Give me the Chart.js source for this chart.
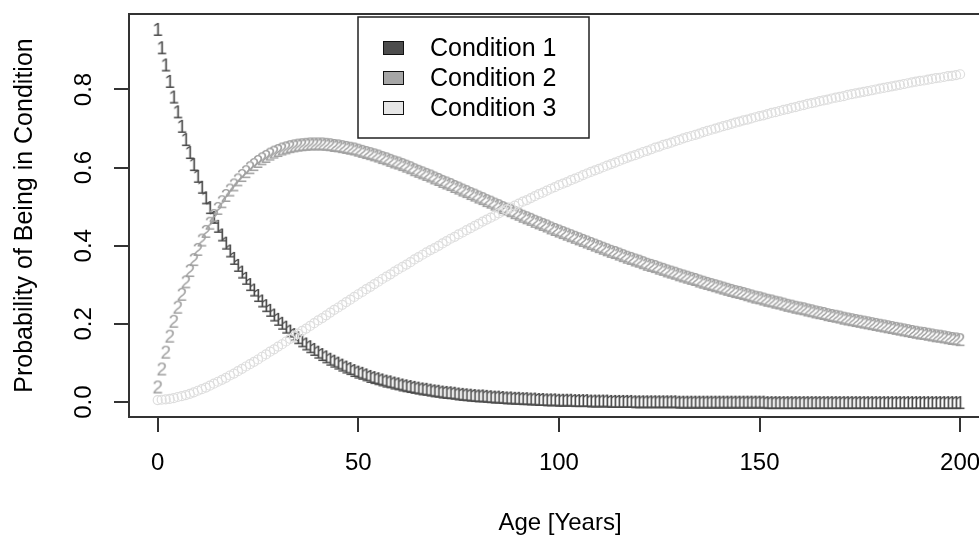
<!DOCTYPE html>
<html>
<head>
<meta charset="utf-8">
<script src="https://cdn.jsdelivr.net/npm/chart.js@4.4.0/dist/chart.umd.min.js"></script>
<style>
  html, body { margin: 0; padding: 0; background: #fff; overflow: hidden; }
  #wrap { width: 1000px; height: 539px; }
</style>
</head>
<body>
<div id="wrap"><canvas id="chart" width="1000" height="539"></canvas></div>
<script>
// age in years (one point per year)
const ages = [
  0, 1, 2, 3, 4, 5, 6, 7, 8, 9, 10, 11, 12, 13, 14, 15, 16, 17, 18, 19,
  20, 21, 22, 23, 24, 25, 26, 27, 28, 29, 30, 31, 32, 33, 34, 35, 36, 37, 38, 39,
  40, 41, 42, 43, 44, 45, 46, 47, 48, 49, 50, 51, 52, 53, 54, 55, 56, 57, 58, 59,
  60, 61, 62, 63, 64, 65, 66, 67, 68, 69, 70, 71, 72, 73, 74, 75, 76, 77, 78, 79,
  80, 81, 82, 83, 84, 85, 86, 87, 88, 89, 90, 91, 92, 93, 94, 95, 96, 97, 98, 99,
  100, 101, 102, 103, 104, 105, 106, 107, 108, 109, 110, 111, 112, 113, 114, 115, 116, 117, 118, 119,
  120, 121, 122, 123, 124, 125, 126, 127, 128, 129, 130, 131, 132, 133, 134, 135, 136, 137, 138, 139,
  140, 141, 142, 143, 144, 145, 146, 147, 148, 149, 150, 151, 152, 153, 154, 155, 156, 157, 158, 159,
  160, 161, 162, 163, 164, 165, 166, 167, 168, 169, 170, 171, 172, 173, 174, 175, 176, 177, 178, 179,
  180, 181, 182, 183, 184, 185, 186, 187, 188, 189, 190, 191, 192, 193, 194, 195, 196, 197, 198, 199,
  200
];

const condition1 = [
  0.955, 0.908, 0.864, 0.822, 0.782, 0.744, 0.707, 0.673, 0.640, 0.609,
  0.579, 0.551, 0.524, 0.499, 0.474, 0.451, 0.429, 0.408, 0.388, 0.369,
  0.351, 0.334, 0.318, 0.302, 0.288, 0.274, 0.260, 0.248, 0.236, 0.224,
  0.213, 0.203, 0.193, 0.183, 0.174, 0.166, 0.158, 0.150, 0.143, 0.136,
  0.129, 0.123, 0.117, 0.111, 0.106, 0.101, 0.096, 0.091, 0.087, 0.082,
  0.078, 0.075, 0.071, 0.067, 0.064, 0.061, 0.058, 0.055, 0.053, 0.050,
  0.048, 0.045, 0.043, 0.041, 0.039, 0.037, 0.035, 0.034, 0.032, 0.030,
  0.029, 0.027, 0.026, 0.025, 0.024, 0.022, 0.021, 0.020, 0.019, 0.018,
  0.017, 0.017, 0.016, 0.015, 0.014, 0.014, 0.013, 0.012, 0.012, 0.011,
  0.011, 0.010, 0.010, 0.009, 0.009, 0.008, 0.008, 0.007, 0.007, 0.007,
  0.006, 0.006, 0.006, 0.006, 0.005, 0.005, 0.005, 0.005, 0.004, 0.004,
  0.004, 0.004, 0.004, 0.003, 0.003, 0.003, 0.003, 0.003, 0.003, 0.002,
  0.002, 0.002, 0.002, 0.002, 0.002, 0.002, 0.002, 0.002, 0.002, 0.002,
  0.001, 0.001, 0.001, 0.001, 0.001, 0.001, 0.001, 0.001, 0.001, 0.001,
  0.001, 0.001, 0.001, 0.001, 0.001, 0.001, 0.001, 0.001, 0.001, 0.001,
  0.001, 0.001, 0, 0, 0, 0, 0, 0, 0, 0,
  0, 0, 0, 0, 0, 0, 0, 0, 0, 0,
  0, 0, 0, 0, 0, 0, 0, 0, 0, 0,
  0, 0, 0, 0, 0, 0, 0, 0, 0, 0,
  0, 0, 0, 0, 0, 0, 0, 0, 0, 0,
  0
];

const condition2 = [
  0.040, 0.086, 0.129, 0.170, 0.208, 0.244, 0.277, 0.309, 0.338, 0.366,
  0.392, 0.416, 0.438, 0.459, 0.479, 0.497, 0.514, 0.530, 0.544, 0.557,
  0.570, 0.581, 0.591, 0.601, 0.609, 0.617, 0.624, 0.630, 0.636, 0.641,
  0.645, 0.649, 0.652, 0.655, 0.657, 0.659, 0.660, 0.661, 0.662, 0.662,
  0.662, 0.662, 0.661, 0.660, 0.658, 0.657, 0.655, 0.653, 0.651, 0.649,
  0.646, 0.643, 0.640, 0.637, 0.634, 0.631, 0.627, 0.624, 0.620, 0.616,
  0.613, 0.609, 0.605, 0.601, 0.596, 0.592, 0.588, 0.584, 0.580, 0.575,
  0.571, 0.566, 0.562, 0.558, 0.553, 0.549, 0.544, 0.540, 0.535, 0.531,
  0.526, 0.522, 0.517, 0.513, 0.508, 0.504, 0.499, 0.495, 0.491, 0.486,
  0.482, 0.477, 0.473, 0.469, 0.464, 0.460, 0.456, 0.452, 0.447, 0.443,
  0.439, 0.435, 0.431, 0.427, 0.423, 0.419, 0.415, 0.411, 0.407, 0.403,
  0.399, 0.395, 0.391, 0.387, 0.384, 0.380, 0.376, 0.372, 0.369, 0.365,
  0.362, 0.358, 0.354, 0.351, 0.348, 0.344, 0.341, 0.337, 0.334, 0.331,
  0.327, 0.324, 0.321, 0.318, 0.315, 0.311, 0.308, 0.305, 0.302, 0.299,
  0.296, 0.293, 0.290, 0.287, 0.284, 0.282, 0.279, 0.276, 0.273, 0.270,
  0.268, 0.265, 0.262, 0.260, 0.257, 0.255, 0.252, 0.249, 0.247, 0.244,
  0.242, 0.240, 0.237, 0.235, 0.232, 0.230, 0.228, 0.225, 0.223, 0.221,
  0.219, 0.216, 0.214, 0.212, 0.210, 0.208, 0.206, 0.204, 0.202, 0.200,
  0.198, 0.196, 0.194, 0.192, 0.190, 0.188, 0.186, 0.184, 0.182, 0.180,
  0.178, 0.177, 0.175, 0.173, 0.171, 0.170, 0.168, 0.166, 0.164, 0.163,
  0.161
];

const condition3 = [
  0.005, 0.006, 0.007, 0.008, 0.010, 0.013, 0.015, 0.018, 0.021, 0.025,
  0.029, 0.033, 0.037, 0.042, 0.047, 0.052, 0.057, 0.062, 0.068, 0.073,
  0.079, 0.085, 0.091, 0.097, 0.103, 0.109, 0.116, 0.122, 0.129, 0.135,
  0.142, 0.148, 0.155, 0.162, 0.168, 0.175, 0.182, 0.188, 0.195, 0.202,
  0.209, 0.215, 0.222, 0.229, 0.236, 0.242, 0.249, 0.256, 0.262, 0.269,
  0.276, 0.282, 0.289, 0.295, 0.302, 0.308, 0.315, 0.321, 0.327, 0.334,
  0.340, 0.346, 0.352, 0.358, 0.365, 0.371, 0.377, 0.383, 0.389, 0.394,
  0.400, 0.406, 0.412, 0.418, 0.423, 0.429, 0.434, 0.440, 0.445, 0.451,
  0.456, 0.462, 0.467, 0.472, 0.477, 0.483, 0.488, 0.493, 0.498, 0.503,
  0.508, 0.513, 0.517, 0.522, 0.527, 0.532, 0.536, 0.541, 0.546, 0.550,
  0.555, 0.559, 0.563, 0.568, 0.572, 0.576, 0.581, 0.585, 0.589, 0.593,
  0.597, 0.601, 0.605, 0.609, 0.613, 0.617, 0.621, 0.625, 0.629, 0.632,
  0.636, 0.640, 0.643, 0.647, 0.651, 0.654, 0.658, 0.661, 0.664, 0.668,
  0.671, 0.675, 0.678, 0.681, 0.684, 0.687, 0.691, 0.694, 0.697, 0.700,
  0.703, 0.706, 0.709, 0.712, 0.715, 0.718, 0.721, 0.723, 0.726, 0.729,
  0.732, 0.734, 0.737, 0.740, 0.742, 0.745, 0.748, 0.750, 0.753, 0.755,
  0.758, 0.760, 0.763, 0.765, 0.767, 0.770, 0.772, 0.774, 0.777, 0.779,
  0.781, 0.783, 0.786, 0.788, 0.790, 0.792, 0.794, 0.796, 0.798, 0.800,
  0.802, 0.804, 0.806, 0.808, 0.810, 0.812, 0.814, 0.816, 0.818, 0.820,
  0.822, 0.823, 0.825, 0.827, 0.829, 0.830, 0.832, 0.834, 0.835, 0.837,
  0.839
];

const seriesNames = ['Condition 1', 'Condition 2', 'Condition 3'];
const xTicks = [0, 50, 100, 150, 200];
const yTicks = [0, 0.2, 0.4, 0.6, 0.8];
const yTickLabels = ['0.0', '0.2', '0.4', '0.6', '0.8'];

const FONT = '"Liberation Sans", Arial, Helvetica, sans-serif';
Chart.defaults.font.family = FONT;
Chart.defaults.color = '#000';

function toPoints(values) {
    return ages.map((a, i) => ({ x: a, y: values[i] }));
}

// R style plotting characters ("1", "2") as small canvases
function glyph(ch, color) {
    const c = document.createElement('canvas');
    c.width = 16;
    c.height = 22;
    const g = c.getContext('2d');
    g.font = '19px ' + FONT;
    g.fillStyle = color;
    g.textAlign = 'center';
    g.textBaseline = 'middle';
    g.fillText(ch, 8, 13);
    return c;
}

const boxPlugin = {
    id: 'box',
    afterDatasetsDraw(chart) {
        const { ctx, chartArea: a } = chart;
        ctx.save();
        ctx.strokeStyle = '#333';
        ctx.lineWidth = 2;
        ctx.strokeRect(a.left, a.top, a.right - a.left, a.bottom - a.top);
        ctx.restore();
    }
};

const legendPlugin = {
    id: 'rLegend',
    afterDraw(chart) {
        const ctx = chart.ctx;
        ctx.save();
        ctx.fillStyle = '#fff';
        ctx.fillRect(358, 17, 231, 121);
        ctx.strokeStyle = '#222';
        ctx.lineWidth = 1.5;
        ctx.strokeRect(358, 17, 231, 121);
        ctx.font = '25px ' + FONT;
        ctx.textBaseline = 'middle';
        chart.data.datasets.forEach((ds, i) => {
            const cy = 48 + i * 30;
            ctx.fillStyle = ds.legendFill;
            ctx.fillRect(383, cy - 7, 21, 14);
            ctx.strokeStyle = '#111';
            ctx.lineWidth = 1;
            ctx.strokeRect(383.5, cy - 6.5, 20, 13);
            ctx.fillStyle = '#000';
            ctx.fillText(ds.label, 430, cy + 1);
        });
        ctx.restore();
    }
};

const ctx = document.getElementById('chart').getContext('2d');
new Chart(ctx, {
    type: 'scatter',
    data: {
        datasets: [
            {
                label: seriesNames[0],
                data: toPoints(condition1),
                pointStyle: glyph('1', '#4a4a4a'),
                legendFill: '#4d4d4d',
                order: 3
            },
            {
                label: seriesNames[1],
                data: toPoints(condition2),
                pointStyle: glyph('2', '#a0a0a0'),
                legendFill: '#a6a6a6',
                order: 2
            },
            {
                label: seriesNames[2],
                data: toPoints(condition3),
                pointStyle: 'circle',
                pointRadius: 4.5,
                borderColor: '#dedede',
                backgroundColor: 'rgba(0,0,0,0)',
                borderWidth: 1.2,
                legendFill: '#e6e6e6',
                order: 1
            }
        ]
    },
    options: {
        responsive: false,
        animation: false,
        layout: { padding: { top: 14, right: 9, left: 0, bottom: 0 } },
        plugins: {
            legend: { display: false },
            tooltip: { enabled: false }
        },
        scales: {
            x: {
                type: 'linear',
                min: -7.15,
                max: 207.7,
                afterBuildTicks: s => { s.ticks = xTicks.map(v => ({ value: v })); },
                afterFit: s => { s.height = 122; s.paddingLeft = 0; s.paddingRight = 0; },
                grid: { drawOnChartArea: false, tickLength: 15, color: '#333', lineWidth: 2 },
                border: { display: false },
                ticks: { font: { size: 24 }, color: '#000', padding: 17, maxRotation: 0, autoSkip: false },
                title: {
                    display: true,
                    text: 'Age [Years]',
                    font: { size: 24 },
                    color: '#000',
                    padding: { top: 0, bottom: 1 }
                }
            },
            y: {
                type: 'linear',
                min: -0.0382,
                max: 0.9932,
                afterBuildTicks: s => { s.ticks = yTicks.map(v => ({ value: v })); },
                afterFit: s => { s.width = 129; s.paddingTop = 0; s.paddingBottom = 0; },
                grid: { drawOnChartArea: false, tickLength: 15, color: '#333', lineWidth: 2 },
                border: { display: false },
                ticks: {
                    font: { size: 24 },
                    color: '#000',
                    padding: 13,
                    minRotation: 90,
                    maxRotation: 90,
                    crossAlign: 'center',
                    autoSkip: false,
                    callback: (v, i) => yTickLabels[i]
                },
                title: {
                    display: true,
                    text: 'Probability of Being in Condition',
                    font: { size: 25 },
                    color: '#000',
                    padding: { top: 10, bottom: 0 }
                }
            }
        }
    },
    plugins: [boxPlugin, legendPlugin]
});
</script>
</body>
</html>
